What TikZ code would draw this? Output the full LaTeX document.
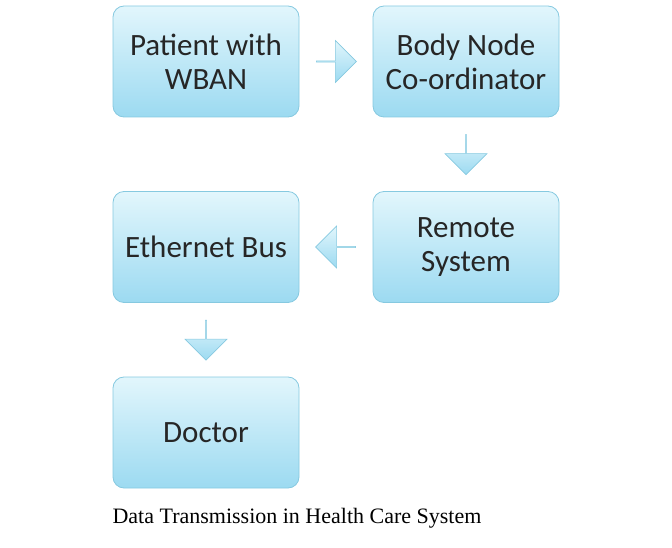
\documentclass[tikz,border=0pt]{standalone}
\usepackage{fontspec}
\setmainfont{Carlito}
\newfontfamily\capfont{Liberation Serif}
\usetikzlibrary{shapes.arrows,calc}
\definecolor{boxtop}{HTML}{E2F6FC}
\definecolor{boxbot}{HTML}{9CDAF1}
\definecolor{boxline}{HTML}{86C9E0}
\tikzset{
  blockbox/.style={rectangle, rounded corners=11pt, draw=boxline, line width=0.8pt,
    top color=boxtop, bottom color=boxbot, minimum width=186pt, minimum height=111pt,
    align=center, font=\fontsize{31}{34}\selectfont, text=black!85},
  blockarrow/.style={single arrow, draw=boxline, line width=0.6pt,
    top color=boxtop, bottom color=boxbot, minimum width=42pt, minimum height=40pt,
    single arrow head extend=9pt, single arrow tip angle=90, inner sep=0pt}
}
\begin{document}
\begin{tikzpicture}[x=1pt,y=-1pt]
\useasboundingbox (0,0) rectangle (672,548);
\node[blockbox] (p) at (206,61.5) {Patient with\\WBAN};
\node[blockbox] (b) at (466,61.5) {Body Node\\Co-ordinator};
\node[blockbox] (r) at (466,247) {Remote\\System};
\node[blockbox] (e) at (206,247) {Ethernet Bus};
\node[blockbox] (d) at (206,432.5) {Doctor};
\node[blockarrow, shape border rotate=0] (a1) at ($(p.east)!0.5!(b.west)$) {};
\node[blockarrow, shape border rotate=270] (a2) at ($(b.south)!0.5!(r.north)$) {};
\node[blockarrow, shape border rotate=180] (a3) at ($(r.west)!0.5!(e.east)$) {};
\node[blockarrow, shape border rotate=270] (a4) at ($(e.south)!0.5!(d.north)$) {};
\node[font=\capfont\fontsize{22}{26}\selectfont] (cap) at (297,518) {Data Transmission in Health Care System};
\end{tikzpicture}
\end{document}
